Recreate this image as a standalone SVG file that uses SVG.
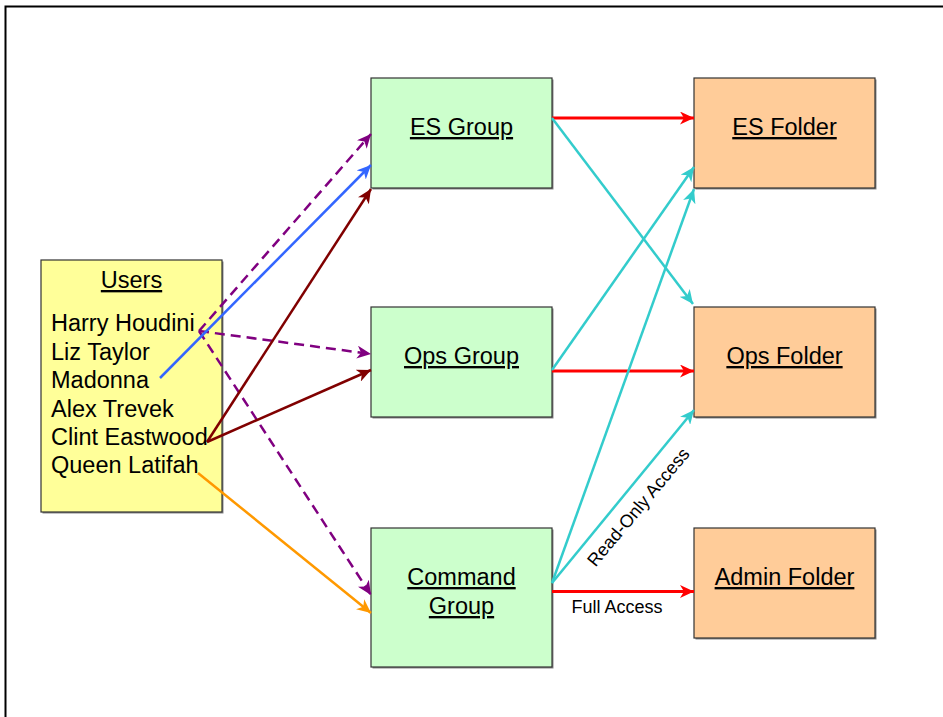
<svg xmlns="http://www.w3.org/2000/svg" width="943" height="717" viewBox="0 0 943 717">
<style>
text{font-family:"Liberation Sans",Arial,sans-serif;fill:#000}
.lbl{font-size:23.5px;text-anchor:middle;text-decoration:underline}
.name{font-size:23.5px}
.small{font-size:18px}
.sh{fill:#888}
.users{fill:#FFFF99;stroke:#333;stroke-width:1.2}
.grp{fill:#CCFFCC;stroke:#333;stroke-width:1.2}
.fld{fill:#FFCC99;stroke:#333;stroke-width:1.2}
.c{fill:none;stroke-width:2.5}
.pu{stroke:#800080;stroke-dasharray:10,6;marker-end:url(#mPu)}
.bl{stroke:#3366FF;marker-end:url(#mBl)}
.dr{stroke:#800000;marker-end:url(#mDr)}
.or{stroke:#FF9900;marker-end:url(#mOr)}
.rd{stroke:#FF0000;stroke-width:2.8;marker-end:url(#mRd)}
.cy{stroke:#33CCCC;marker-end:url(#mCy)}
</style>
<defs>
<marker id="mPu" markerUnits="userSpaceOnUse" markerWidth="15" markerHeight="13" refX="14" refY="6.5" orient="auto" viewBox="0 0 15 13"><path d="M0,0 L14,6.5 L0,13 L4,6.5 z" fill="#800080"/></marker>
<marker id="mBl" markerUnits="userSpaceOnUse" markerWidth="15" markerHeight="13" refX="14" refY="6.5" orient="auto" viewBox="0 0 15 13"><path d="M0,0 L14,6.5 L0,13 L4,6.5 z" fill="#3366FF"/></marker>
<marker id="mDr" markerUnits="userSpaceOnUse" markerWidth="15" markerHeight="13" refX="14" refY="6.5" orient="auto" viewBox="0 0 15 13"><path d="M0,0 L14,6.5 L0,13 L4,6.5 z" fill="#800000"/></marker>
<marker id="mOr" markerUnits="userSpaceOnUse" markerWidth="15" markerHeight="13" refX="14" refY="6.5" orient="auto" viewBox="0 0 15 13"><path d="M0,0 L14,6.5 L0,13 L4,6.5 z" fill="#FF9900"/></marker>
<marker id="mRd" markerUnits="userSpaceOnUse" markerWidth="15" markerHeight="13" refX="14" refY="6.5" orient="auto" viewBox="0 0 15 13"><path d="M0,0 L14,6.5 L0,13 L4,6.5 z" fill="#FF0000"/></marker>
<marker id="mCy" markerUnits="userSpaceOnUse" markerWidth="15" markerHeight="13" refX="14" refY="6.5" orient="auto" viewBox="0 0 15 13"><path d="M0,0 L14,6.5 L0,13 L4,6.5 z" fill="#33CCCC"/></marker>
</defs>
<rect width="943" height="717" fill="#fff"/>
<path d="M5.5,717 L5.5,6.5 L943,6.5" fill="none" stroke="#000" stroke-width="2"/>

<g id="users">
<rect class="sh" x="42.5" y="261.5" width="181" height="252"/>
<rect class="users" x="41" y="260" width="181" height="252"/>
<text class="lbl" x="131.5" y="288">Users</text>
<text class="name" x="51" y="331">Harry Houdini</text>
<text class="name" x="51" y="359.5">Liz Taylor</text>
<text class="name" x="51" y="388">Madonna</text>
<text class="name" x="51" y="416.5">Alex Trevek</text>
<text class="name" x="51" y="445">Clint Eastwood</text>
<text class="name" x="51" y="473">Queen Latifah</text>
</g>

<g id="es-group">
<rect class="sh" x="372.5" y="79.5" width="181" height="110"/>
<rect class="grp" x="371" y="78" width="181" height="110"/>
<text class="lbl" x="461.5" y="135">ES Group</text>
</g>
<g id="ops-group">
<rect class="sh" x="372.5" y="308.5" width="181" height="110"/>
<rect class="grp" x="371" y="307" width="181" height="110"/>
<text class="lbl" x="461.5" y="364">Ops Group</text>
</g>
<g id="command-group">
<rect class="sh" x="372.5" y="529.5" width="181" height="139"/>
<rect class="grp" x="371" y="528" width="181" height="139"/>
<text class="lbl" x="461.5" y="585">Command</text>
<text class="lbl" x="461.5" y="614">Group</text>
</g>

<g id="es-folder">
<rect class="sh" x="695.5" y="79.5" width="181" height="110"/>
<rect class="fld" x="694" y="78" width="181" height="110"/>
<text class="lbl" x="784.5" y="135">ES Folder</text>
</g>
<g id="ops-folder">
<rect class="sh" x="695.5" y="308.5" width="181" height="110"/>
<rect class="fld" x="694" y="307" width="181" height="110"/>
<text class="lbl" x="784.5" y="364">Ops Folder</text>
</g>
<g id="admin-folder">
<rect class="sh" x="695.5" y="529.5" width="181" height="110"/>
<rect class="fld" x="694" y="528" width="181" height="110"/>
<text class="lbl" x="784.5" y="585">Admin Folder</text>
</g>

<g id="connectors">
<line class="c pu" x1="199" y1="331" x2="371" y2="134"/>
<line class="c pu" x1="199" y1="331" x2="371" y2="354"/>
<line class="c pu" x1="199" y1="331" x2="371" y2="595"/>
<line class="c bl" x1="160" y1="378" x2="371" y2="165"/>
<line class="c dr" x1="207" y1="442" x2="371" y2="189"/>
<line class="c dr" x1="207" y1="442" x2="371" y2="370"/>
<line class="c or" x1="198" y1="473" x2="371" y2="613"/>
<line class="c rd" x1="552" y1="118" x2="694" y2="118"/>
<line class="c rd" x1="552" y1="371" x2="694" y2="371"/>
<line class="c rd" x1="552" y1="591.5" x2="694" y2="591.5"/>
<line class="c cy" x1="552" y1="118" x2="693" y2="304"/>
<line class="c cy" x1="552" y1="370" x2="694" y2="167"/>
<line class="c cy" x1="552" y1="583" x2="694" y2="189"/>
<line class="c cy" x1="552" y1="583" x2="694" y2="410"/>
<text class="small" x="0" y="0" text-anchor="middle" transform="translate(643,511) rotate(-50)">Read-Only Access</text>
<text class="small" x="617" y="613" text-anchor="middle">Full Access</text>
</g>
</svg>
